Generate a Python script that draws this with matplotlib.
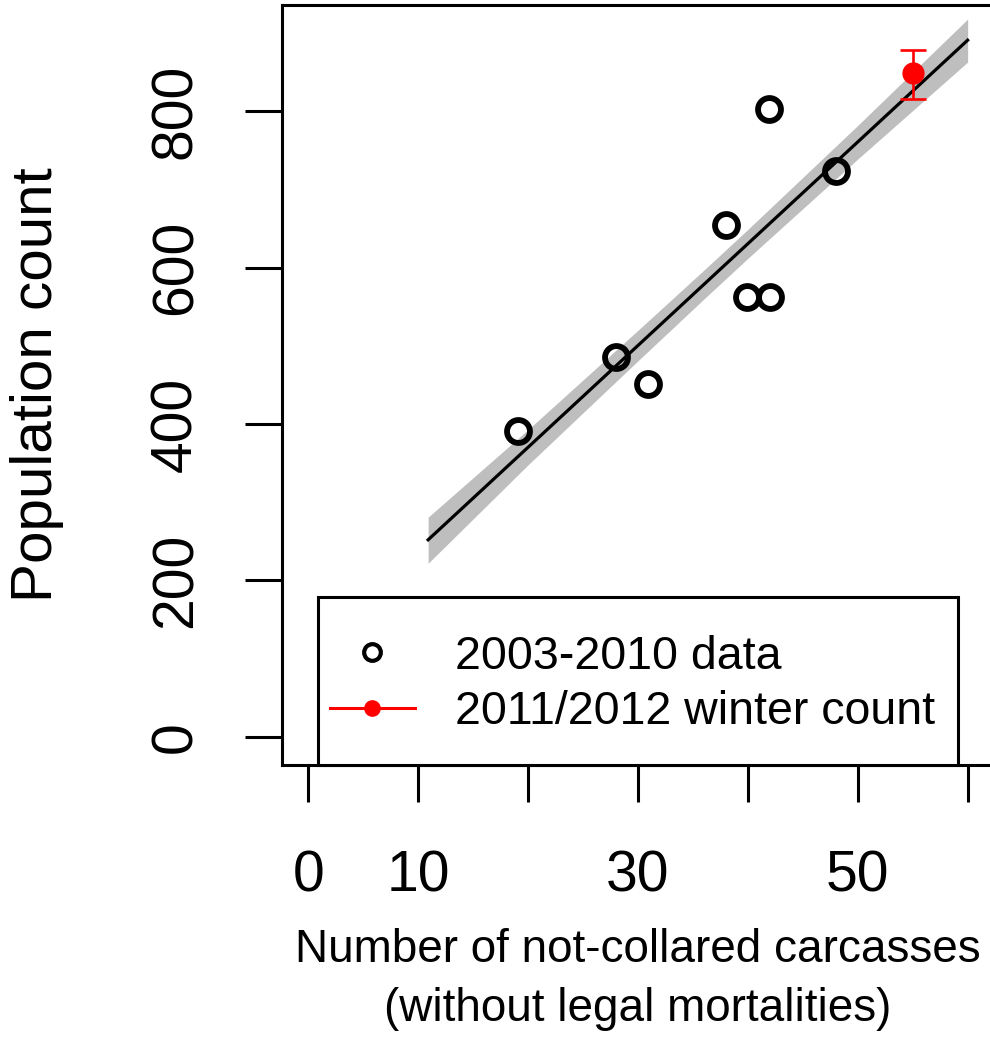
import matplotlib
matplotlib.use("Agg")
import matplotlib.pyplot as plt
from matplotlib.patches import Rectangle

plt.rcParams['font.family'] = ['Liberation Sans', 'DejaVu Sans']

# 2003-2010 observations
carcasses = [19.1, 28.0, 30.9, 38.0, 39.9, 42.0, 41.9, 48.0]
counts = [391, 486, 451, 655, 563, 563, 803, 724]

# 2011/2012 winter count with error bar
winter_x = [55.0]
winter_y = [849]
winter_err_lo = [33]
winter_err_hi = [30]

# fitted regression line and confidence band
fit_x = [10.9, 60.0]
fit_y = [252, 891]
band_x = [10.9, 20, 30, 36, 40, 50, 60]
band_lo = [222, 348, 481, 560, 612, 739, 863]
band_hi = [281, 393, 520, 597, 649, 782, 918]

xticks = [0, 10, 20, 30, 40, 50, 60]
xtick_labels = ['0', '10', '', '30', '', '50', '']
yticks = [0, 200, 400, 600, 800]

W, H = 990, 1044
fig = plt.figure(figsize=(W / 100, H / 100), dpi=100)
ax = fig.add_axes([282 / W, 1 - 765 / H, (994 - 282) / W, 760 / H])

ax.fill_between(band_x, band_lo, band_hi, color='#BEBEBE', lw=0, zorder=1)
ax.plot(fit_x, fit_y, color='black', lw=2.3, zorder=2)
ax.plot(carcasses, counts, 'o', mfc='none', mec='black', ms=16.5, mew=4.2, zorder=3)
ax.errorbar(winter_x, winter_y, yerr=[winter_err_lo, winter_err_hi], fmt='o',
            color='red', ms=15, elinewidth=1.9, capsize=9.4, capthick=1.9, zorder=4)

ax.set_xlim(-2.4, 62.4)
ax.set_ylim(-36, 936)
ax.set_xticks(xticks)
ax.set_xticklabels(xtick_labels)
ax.set_yticks(yticks)
ax.set_yticklabels([str(v) for v in yticks], rotation=90, va='center')
ax.tick_params(axis='both', length=26.6, width=2.2, labelsize=41)
ax.tick_params(axis='x', pad=34)
ax.tick_params(axis='y', pad=30)
for sp in ax.spines.values():
    sp.set_linewidth(2.2)

ax.set_ylabel('Population count', fontsize=42, va='center')
ax.yaxis.set_label_coords(-0.344, 0.5)
ax.set_xlabel('Number of not-collared carcasses\n(without legal mortalities)',
              fontsize=33, linespacing=1.45)
ax.xaxis.set_label_coords(0.5, -0.2145)

# legend box drawn in axes coordinates
tr = ax.transAxes
ax.add_patch(Rectangle((0.0506, 0.0), 0.8988, 0.221, transform=tr, facecolor='white',
                       edgecolor='black', lw=2.2, zorder=5, clip_on=False))
ax.plot([0.1264], [0.1487], 'o', mfc='none', mec='black', ms=12, mew=3.0,
        transform=tr, zorder=6, clip_on=False)
ax.plot([0.0674, 0.1868], [0.075, 0.075], color='red', lw=2.2, transform=tr, zorder=6)
ax.plot([0.1264], [0.075], 'o', color='red', ms=11, transform=tr, zorder=6)
ax.text(0.243, 0.142, '2003-2010 data', transform=tr, fontsize=33.5, va='center', zorder=7)
ax.text(0.243, 0.0697, '2011/2012 winter count', transform=tr, fontsize=33.5, va='center', zorder=7)

fig.savefig('out.png', dpi=100)
